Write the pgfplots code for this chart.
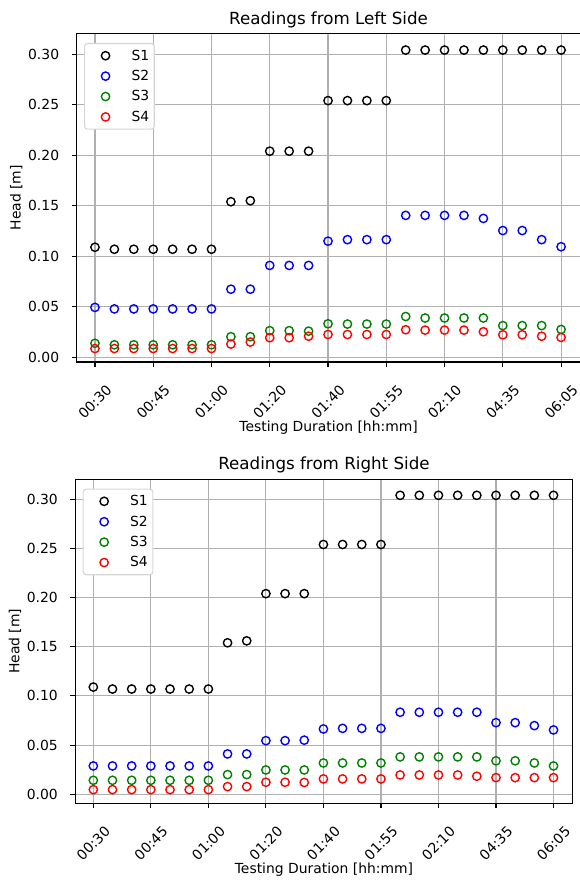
\documentclass[border=0pt]{standalone}
\usepackage{graphicx}
\usepackage{pgfplots}
\pgfplotsset{compat=1.18}
\usepackage{fontspec}
\setmainfont{DejaVu Sans}
\definecolor{mgreen}{rgb}{0,0.5,0}
\definecolor{gridgray}{HTML}{B0B0B0}
\definecolor{leggray}{HTML}{D6D6D6}
\newcommand{\rl}[1]{\rotatebox{45}{#1}}
\pgfplotsset{
  myax/.style={
    scale only axis,
    xmin=-0.94, xmax=25.0,
    xtick={0,3,6,9,12,15,18,21,24},
    xticklabels={\rl{00:30},\rl{00:45},\rl{01:00},\rl{01:20},\rl{01:40},\rl{01:55},\rl{02:10},\rl{04:35},\rl{06:05}},
    ytick={0,0.05,0.10,0.15,0.20,0.25,0.30},
    yticklabels={0.00,0.05,0.10,0.15,0.20,0.25,0.30},
    /pgf/number format/assume math mode=true,
    grid=major,
    major grid style={gridgray, line width=1.1pt},
    axis line style={line width=1.1pt},
    tick align=outside, tick pos=left,
    major tick length=4.9pt,
    major tick style={black, line width=1.1pt},
    tick label style={font=\fontsize{13.9}{16}\selectfont},
    xticklabel style={anchor=north, inner sep=0pt, yshift=-17pt},
    yticklabel style={anchor=east, inner sep=0pt, xshift=-12.5pt},
    every axis title/.style={at={(rel axis cs:0.5,1)}, anchor=base, yshift=9.5pt, font=\fontsize{16.7}{19}\selectfont},
    every axis x label/.style={at={(rel axis cs:0.5,0)}, anchor=base, yshift=-70pt, font=\fontsize{13.9}{16}\selectfont},
    every axis y label/.style={at={(rel axis cs:0,0.5)}, rotate=90, anchor=base, yshift=56pt, font=\fontsize{13.9}{16}\selectfont},
    xlabel={Testing Duration [hh:mm]},
    ylabel={Head [m]},
    legend style={at={(rel axis cs:0,1)}, anchor=north west, xshift=7.3pt, yshift=-9.3pt,
      draw=leggray, line width=1.1pt, rounded corners=3pt, fill=white,
      inner xsep=5pt, inner ysep=2pt, nodes={inner sep=0pt, anchor=west},
      font=\fontsize{13.9}{16}\selectfont},
    legend cell align=left,
    legend image code/.code={\path[draw=none,fill=none] (0pt,-10.2pt) rectangle (42pt,10.2pt); \draw[#1, sharp corners] plot coordinates {(16pt,0pt)};},
    every axis plot/.append style={only marks, mark=o, mark size=4.17pt, line width=1.39pt},
  }
}
\pgfplotstableread{
x S1 S2 S3 S4
0 0.109 0.0495 0.0140 0.0088
1 0.107 0.0480 0.0125 0.0088
2 0.107 0.0480 0.0125 0.0088
3 0.107 0.0480 0.0125 0.0088
4 0.107 0.0480 0.0125 0.0088
5 0.107 0.0480 0.0125 0.0088
6 0.107 0.0480 0.0125 0.0088
7 0.154 0.0675 0.0205 0.0132
8 0.155 0.0675 0.0205 0.0152
9 0.204 0.0910 0.0265 0.0195
10 0.204 0.0910 0.0265 0.0195
11 0.204 0.0910 0.0260 0.0210
12 0.254 0.1150 0.0333 0.0227
13 0.254 0.1165 0.0330 0.0227
14 0.254 0.1165 0.0330 0.0227
15 0.254 0.1165 0.0330 0.0227
16 0.304 0.1405 0.0405 0.0274
17 0.304 0.1405 0.0390 0.0270
18 0.304 0.1405 0.0390 0.0270
19 0.304 0.1405 0.0390 0.0270
20 0.304 0.1375 0.0390 0.0254
21 0.304 0.1255 0.0315 0.0224
22 0.304 0.1255 0.0315 0.0224
23 0.304 0.1165 0.0315 0.0210
24 0.304 0.1095 0.0277 0.0198
}\lefttable
\pgfplotstableread{
x S1 S2 S3 S4
0 0.109 0.0288 0.0142 0.0047
1 0.107 0.0288 0.0142 0.0047
2 0.107 0.0288 0.0142 0.0047
3 0.107 0.0288 0.0142 0.0047
4 0.107 0.0288 0.0142 0.0047
5 0.107 0.0288 0.0142 0.0047
6 0.107 0.0288 0.0142 0.0047
7 0.154 0.0410 0.0200 0.0078
8 0.156 0.0410 0.0200 0.0078
9 0.204 0.0545 0.0247 0.0122
10 0.204 0.0545 0.0247 0.0122
11 0.204 0.0550 0.0247 0.0120
12 0.254 0.0664 0.0318 0.0156
13 0.254 0.0670 0.0318 0.0156
14 0.254 0.0670 0.0318 0.0156
15 0.254 0.0670 0.0318 0.0156
16 0.304 0.0834 0.0380 0.0196
17 0.304 0.0834 0.0380 0.0196
18 0.304 0.0834 0.0380 0.0196
19 0.304 0.0834 0.0380 0.0196
20 0.304 0.0834 0.0380 0.0183
21 0.304 0.0728 0.0340 0.0169
22 0.304 0.0728 0.0340 0.0169
23 0.304 0.0698 0.0318 0.0169
24 0.304 0.0654 0.0288 0.0169
}\righttable
\begin{document}
\begin{tikzpicture}[x=1pt,y=1pt]
\useasboundingbox (0,0) rectangle (579,880);
\begin{axis}[myax, at={(76.7pt,518pt)}, anchor=south west, width=503.8pt, height=328.3pt,
  ymin=-0.0045, ymax=0.3202, title={Readings from Left Side}]
\addplot[black] table[x=x,y=S1] {\lefttable};
\addplot[blue] table[x=x,y=S2] {\lefttable};
\addplot[mgreen] table[x=x,y=S3] {\lefttable};
\addplot[red] table[x=x,y=S4] {\lefttable};
\legend{S1,S2,S3,S4}
\end{axis}
\begin{axis}[myax, at={(75.3pt,76.7pt)}, anchor=south west, width=497.4pt, height=324pt,
  ymin=-0.0092, ymax=0.3203, title={Readings from Right Side}]
\addplot[black] table[x=x,y=S1] {\righttable};
\addplot[blue] table[x=x,y=S2] {\righttable};
\addplot[mgreen] table[x=x,y=S3] {\righttable};
\addplot[red] table[x=x,y=S4] {\righttable};
\legend{S1,S2,S3,S4}
\end{axis}
\end{tikzpicture}
\end{document}
